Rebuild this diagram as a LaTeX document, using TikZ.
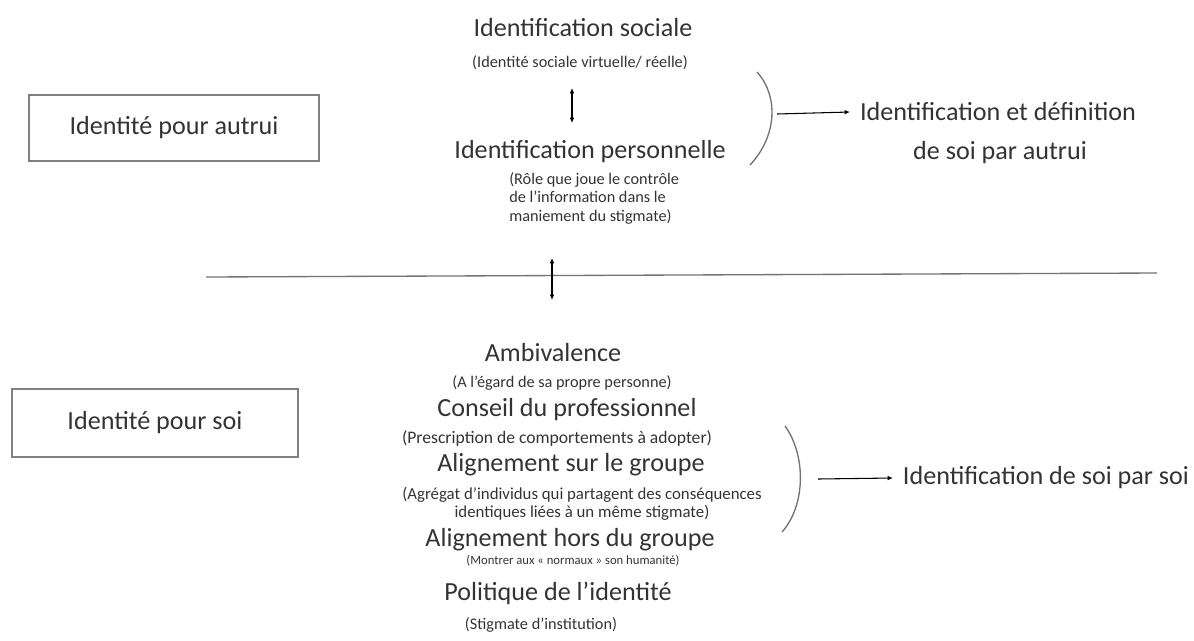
\documentclass[tikz,border=0pt]{standalone}
\usepackage{fontspec}
\setmainfont{Carlito}
\usetikzlibrary{arrows.meta}

\begin{document}
\begin{tikzpicture}[x=0.75pt, y=-0.75pt,
    every node/.style={text=black!80},
    title/.style={font=\fontsize{19.6}{23}\selectfont},
    note/.style={font=\fontsize{12.2}{13.9}\selectfont},
    frame/.style={draw=black!50, line width=1.1pt, title},
    curl/.style={draw=black!55, line width=1pt},
    to/.style={-{Latex[length=4pt,width=3.5pt]}, line width=0.8pt},
    both/.style={{Latex[length=4pt,width=3.5pt]}-{Latex[length=4pt,width=3.5pt]}, line width=0.8pt}]
  \useasboundingbox (0,0) rectangle (1194,640);
  % the two frames
  \node[frame, minimum width=217.5pt, minimum height=49.5pt] (autrui) at (174,128) {Identité pour autrui};
  \node[frame, minimum width=214.5pt, minimum height=51pt] (soi) at (155,423) {Identité pour soi};

  % upper part
  \node[title] (sociale) at (583,28) {Identification sociale};
  \node[note] (socialeN) at (580,63) {(Identité sociale virtuelle/ réelle)};
  \node[title] (perso) at (590,152) {Identification personnelle};
  \node[note, align=left, anchor=west, inner sep=0pt] (persoN) at (509,198)
    {(Rôle que joue le contrôle\\de l’information dans le\\maniement du stigmate)};
  \coordinate (up1) at (572,88);
  \coordinate (up2) at (572,123);
  \draw[both] (up1) -- (up2);
  \draw[curl] (757,72) .. controls (778,95) and (778,135) .. (750,165);
  \coordinate (brA) at (777,114);
  \node[title] (autruiA) at (998,112) {Identification et définition};
  \node[title] (autruiB) at (1000,153) {de soi par autrui};
  \draw[to] (brA) -- ([xshift=-4pt]autruiA.west);

  % separation
  \coordinate (lineL) at (206,277);
  \coordinate (lineR) at (1157,273);
  \draw[draw=black!55, line width=1pt] (lineL) -- (lineR);
  \coordinate (mid1) at (552,258);
  \coordinate (mid2) at (552,300);
  \draw[both] (mid1) -- (mid2);

  % lower part
  \node[title] (ambi) at (553,353) {Ambivalence};
  \node[note] (ambiN) at (562,383) {(A l’égard de sa propre personne)};
  \node[title] (conseil) at (567,410) {Conseil du professionnel};
  \node[note, font=\fontsize{13.2}{15}\selectfont] (conseilN) at (557,438) {(Prescription de comportements à adopter)};
  \node[title] (surgr) at (571,465) {Alignement sur le groupe};
  \node[note, align=center, font=\fontsize{12.6}{13.9}\selectfont] (surgrN) at (582,504)
    {(Agrégat d’individus qui partagent des conséquences\\identiques liées à un même stigmate)};
  \node[title] (horsgr) at (570,540) {Alignement hors du groupe};
  \node[note, font=\fontsize{9.5}{11}\selectfont] (horsgrN) at (573,561) {(Montrer aux « normaux » son humanité)};
  \node[title] (polit) at (558,593) {Politique de l’identité};
  \node[note] (politN) at (541,625) {(Stigmate d’institution)};
  \draw[curl] (785,426) .. controls (806,455) and (806,505) .. (782,532);
  \coordinate (brB) at (818,479);
  \node[title] (parsoi) at (1046,478) {Identification de soi par soi};
  \draw[to] (brB) -- ([xshift=-4pt]parsoi.west);
\end{tikzpicture}
\end{document}
